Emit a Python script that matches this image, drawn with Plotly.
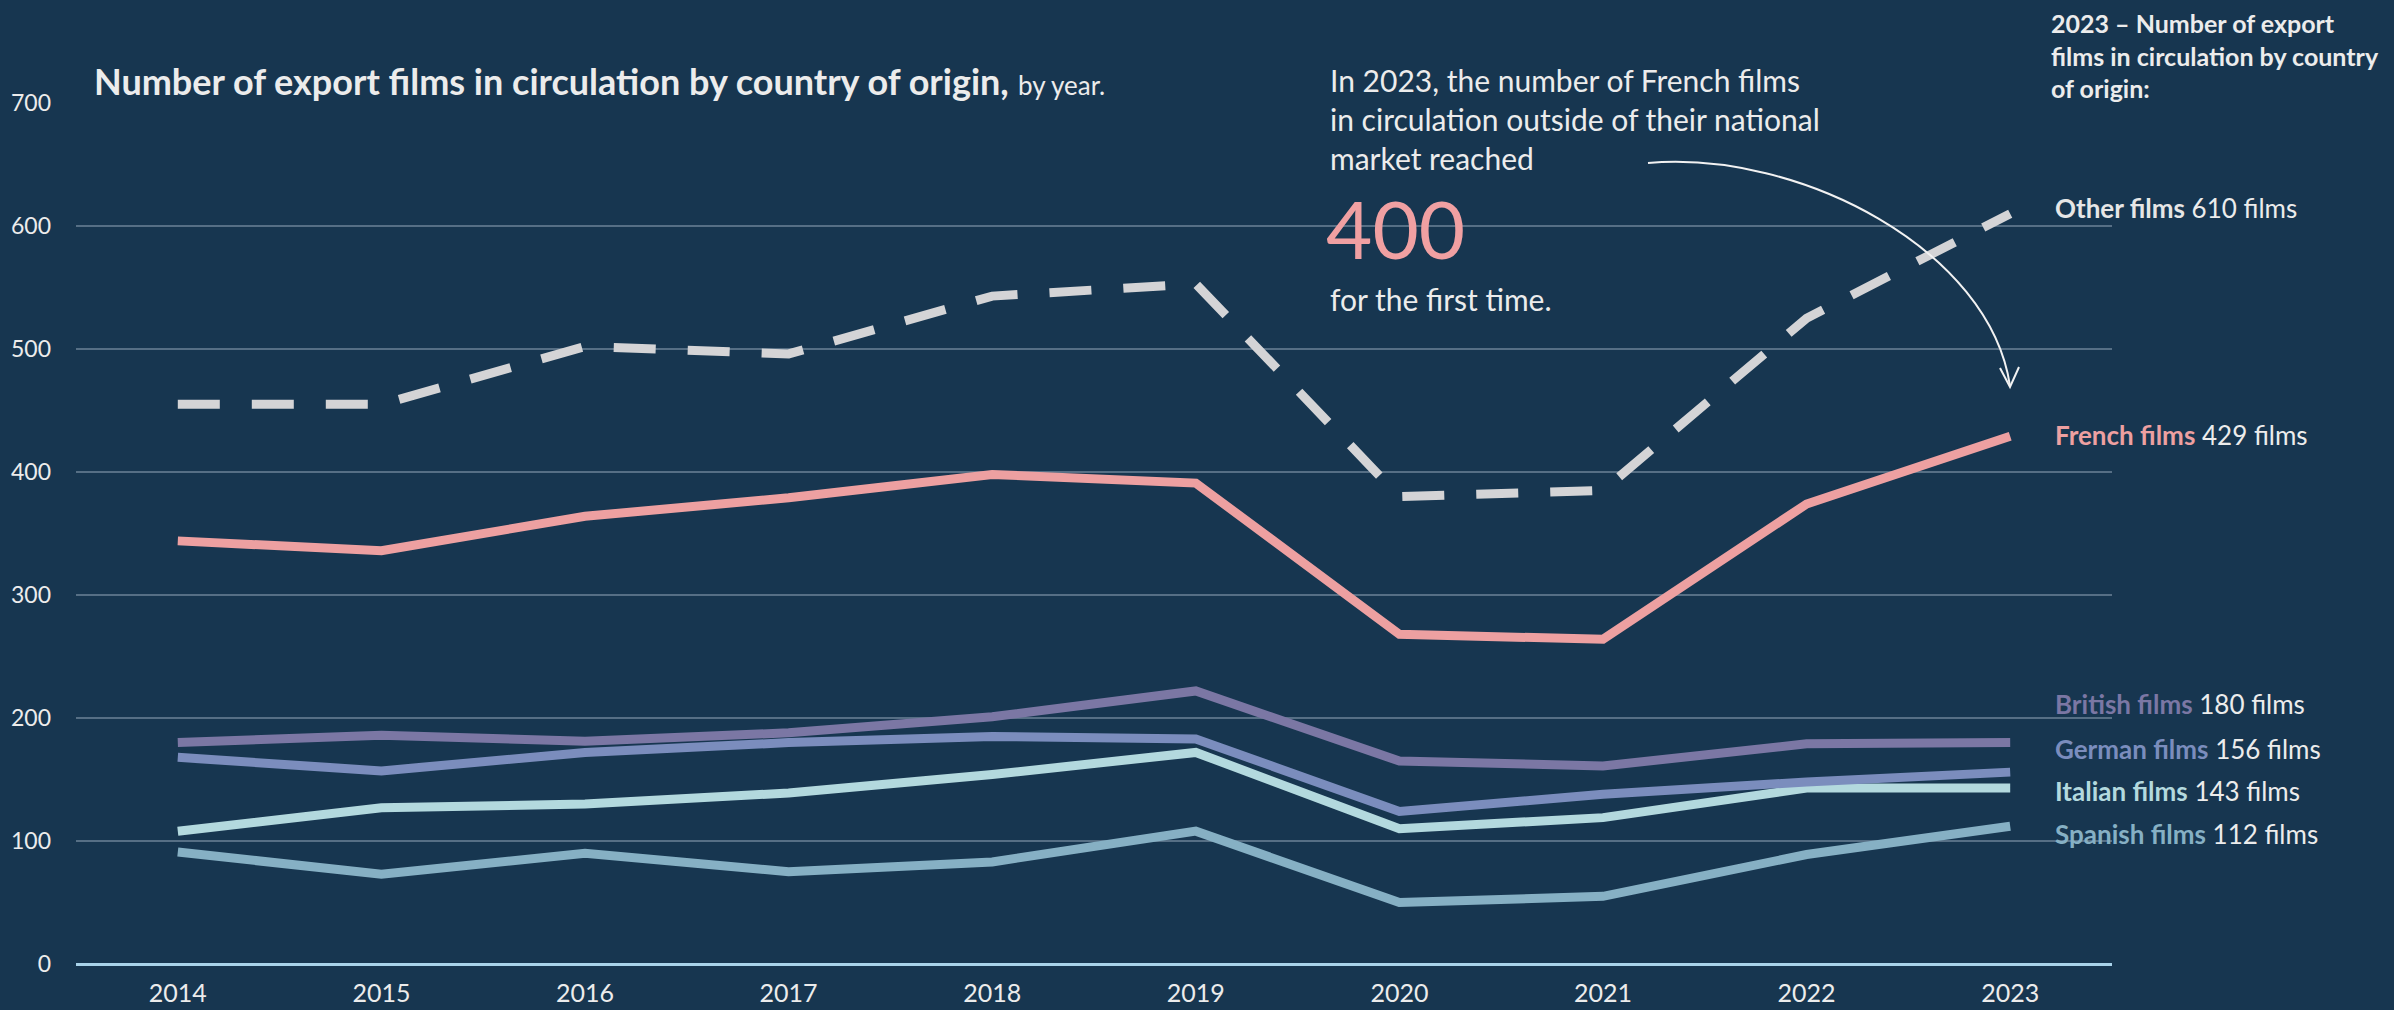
"""Export films in circulation by country of origin, 2014-2023."""
import plotly.graph_objects as go

YEARS = [2014, 2015, 2016, 2017, 2018, 2019, 2020, 2021, 2022, 2023]
OTHER = [455, 455, 502, 496, 543, 553, 380, 385, 525, 610]
FRENCH = [344, 336, 364, 379, 398, 391, 268, 264, 374, 429]
BRITISH = [180, 186, 181, 188, 201, 222, 165, 161, 179, 180]
GERMAN = [168, 157, 172, 180, 185, 183, 124, 138, 148, 156]
ITALIAN = [108, 127, 130, 139, 154, 172, 110, 119, 143, 143]
SPANISH = [91, 73, 90, 75, 83, 108, 50, 55, 89, 112]

Y_TICKS = [0, 100, 200, 300, 400, 500, 600, 700]

BG = "#173650"
TXT = "#ececec"
FONT = "Lato, 'Open Sans', sans-serif"

W, H = 2394, 1010
M_L, M_R, M_T, M_B = 76, 282, 103, 46

# name, values, colour, dashed, label y (data units, nudged to avoid overlap)
SERIES = [
    ("Spanish films", SPANISH, "#86b0c4", False, 106),
    ("Italian films", ITALIAN, "#b3d9de", False, 141),
    ("German films", GERMAN, "#7b8dbd", False, 175),
    ("British films", BRITISH, "#7b77a4", False, 211),
    ("French films", FRENCH, "#eda0a1", False, 430),
    ("Other films", OTHER, "#d4d4d6", True, 615),
]


def px(x):
    return (x - M_L) / (W - M_L - M_R)


def py(y):
    return (H - M_B - y) / (H - M_T - M_B)


fig = go.Figure()
for name, vals, color, dashed, _ in SERIES:
    fig.add_trace(go.Scatter(
        x=YEARS, y=vals, mode="lines", name=name,
        line=dict(color=color, width=9, dash="42px,32px" if dashed else "solid"),
        hoverinfo="x+y+name",
    ))

annotations = []
for name, vals, color, dashed, label_y in SERIES:
    name_col = "#e6e6e6" if dashed else color
    annotations.append(dict(
        x=YEARS[-1], y=label_y, xref="x", yref="y", xshift=43,
        xanchor="left", yanchor="middle", showarrow=False,
        text=f"<b><span style='color:{name_col}'>{name}</span></b> {vals[-1]} films",
        font=dict(family=FONT, size=26, color=TXT),
    ))

# title
annotations.append(dict(
    x=px(92), y=py(81), xref="paper", yref="paper",
    xanchor="left", yanchor="middle", showarrow=False,
    text="<b>Number of export films in circulation by country of origin,</b>"
         " <span style='font-size:26px'>by year.</span>",
    font=dict(family=FONT, size=36, color=TXT),
))

# right-hand heading
annotations.append(dict(
    x=px(2049), y=py(55), xref="paper", yref="paper",
    xanchor="left", yanchor="middle", showarrow=False, align="left",
    text="<b>2023 – Number of export<br>films in circulation by country<br>of origin:</b>",
    font=dict(family=FONT, size=25, color=TXT),
))

# call-out
annotations.append(dict(
    x=px(1328), y=py(119), xref="paper", yref="paper",
    xanchor="left", yanchor="middle", showarrow=False, align="left",
    text="In 2023, the number of French films<br>in circulation outside of their national<br>market reached",
    font=dict(family=FONT, size=30, color=TXT),
))
annotations.append(dict(
    x=px(1324), y=py(228), xref="paper", yref="paper",
    xanchor="left", yanchor="middle", showarrow=False,
    text="400", font=dict(family=FONT, size=80, color="#f0a0a2"),
))
annotations.append(dict(
    x=px(1328), y=py(299), xref="paper", yref="paper",
    xanchor="left", yanchor="middle", showarrow=False,
    text="for the first time.", font=dict(family=FONT, size=30, color=TXT),
))

# curved arrow from the call-out to the 2023 French point
p0, c1, c2, p3 = (1648, 163), (1800, 150), (1990, 250), (2010, 386)
curve = (f"M {px(p0[0])},{py(p0[1])} C {px(c1[0])},{py(c1[1])} "
         f"{px(c2[0])},{py(c2[1])} {px(p3[0])},{py(p3[1])}")
head = (f"M {px(2000)},{py(368)} L {px(2010)},{py(387)} L {px(2019)},{py(367)}")
shapes = [
    dict(type="path", path=curve, xref="paper", yref="paper",
         line=dict(color="#f2f2f2", width=2)),
    dict(type="path", path=head, xref="paper", yref="paper",
         line=dict(color="#f2f2f2", width=2)),
]

fig.update_layout(
    width=W, height=H,
    paper_bgcolor=BG, plot_bgcolor=BG,
    margin=dict(l=M_L, r=M_R, t=M_T, b=M_B, pad=0),
    showlegend=False,
    font=dict(family=FONT, color=TXT),
    annotations=annotations,
    shapes=shapes,
    hovermode="x unified",
)
fig.update_xaxes(
    range=[2013.5, 2023.5], tickvals=YEARS, ticktext=[str(y) for y in YEARS],
    showgrid=False, zeroline=False, showline=False,
    ticks="", ticklabelstandoff=12, automargin=False,
    tickfont=dict(family=FONT, size=25, color=TXT),
)
fig.update_yaxes(
    range=[0, 700], tickvals=Y_TICKS,
    showgrid=True, gridcolor="#566f85", gridwidth=2,
    zeroline=True, zerolinecolor="#a9d3ea", zerolinewidth=3,
    showline=False, ticks="", ticklabelstandoff=24, automargin=False,
    tickfont=dict(family=FONT, size=23, color=TXT),
)

# drop the page margin so the figure sits flush in the window
fig.write_html(
    "out.html",
    config={"displayModeBar": False},
    post_script="document.body.style.margin='0';document.body.style.overflow='hidden';",
)
